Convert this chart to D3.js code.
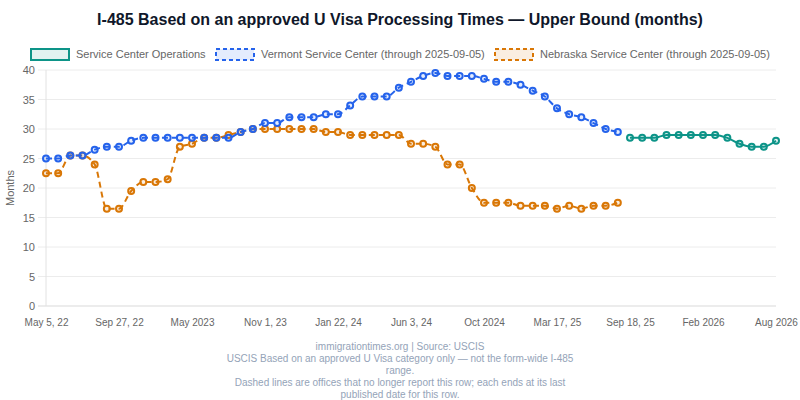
<!DOCTYPE html>
<html>
<head>
<meta charset="utf-8">
<script src="https://cdn.jsdelivr.net/npm/d3@7"></script>
<style>
  body { margin: 0; background: #fff; }
  svg { display: block; font-family: "Liberation Sans", Arial, Helvetica, sans-serif; }
</style>
</head>
<body>
<div id="chart"></div>
<script>
// Tick labels shown on the x axis (one every 6 report dates)
const tickLabels = ['May 5, 22', 'Sep 27, 22', 'May 2023', 'Nov 1, 23', 'Jan 22, 24', 'Jun 3, 24',
    'Oct 2024', 'Mar 17, 25', 'Sep 18, 25', 'Feb 2026', 'Aug 2026'];
const tickEvery = 6;

// Upper bound in months, one value per report date (null = not reported)
const operations = [
    null, null, null, null, null, null, null, null, null, null, null, null,
    null, null, null, null, null, null, null, null, null, null, null, null,
    null, null, null, null, null, null, null, null, null, null, null, null,
    null, null, null, null, null, null, null, null, null, null, null, null,
    28.5, 28.5, 28.5, 29, 29, 29, 29, 29, 28.5, 27.5, 27, 27, 28
];
const vermont = [
    25, 25, 25.5, 25.5, 26.5, 27, 27, 28, 28.5, 28.5, 28.5, 28.5,
    28.5, 28.5, 28.5, 28.5, 29.5, 30, 31, 31, 32, 32, 32, 32.5,
    32.5, 34, 35.5, 35.5, 35.5, 37, 38, 39, 39.5, 39, 39, 39,
    38.5, 38, 38, 37.5, 36.5, 35.5, 33.5, 32.5, 32, 31, 30, 29.5,
    null, null, null, null, null, null, null, null, null, null, null, null, null
];
const nebraska = [
    22.5, 22.5, 25.5, 25.5, 24, 16.5, 16.5, 19.5, 21, 21, 21.5, 27,
    27.5, 28.5, 28.5, 29, 29.5, 30, 30, 30, 30, 30, 30, 29.5,
    29.5, 29, 29, 29, 29, 29, 27.5, 27.5, 27, 24, 24, 20,
    17.5, 17.5, 17.5, 17, 17, 17, 16.5, 17, 16.5, 17, 17, 17.5,
    null, null, null, null, null, null, null, null, null, null, null, null, null
];
const yTicks = [0, 5, 10, 15, 20, 25, 30, 35, 40];

const series = [
    { name: 'Service Center Operations', values: operations, color: '#0d9488', fill: 'rgba(13,148,136,0.12)', dashed: false },
    { name: 'Vermont Service Center (through 2025-09-05)', values: vermont, color: '#2563eb', fill: 'rgba(37,99,235,0.12)', dashed: true },
    { name: 'Nebraska Service Center (through 2025-09-05)', values: nebraska, color: '#d97706', fill: 'rgba(217,119,6,0.12)', dashed: true }
];

const W = 800, H = 400;
const margin = { top: 70, right: 24, bottom: 94, left: 46 };
const width = W - margin.left - margin.right;
const height = H - margin.top - margin.bottom;

const svg = d3.select('#chart')
    .append('svg')
    .attr('width', W)
    .attr('height', H);

// Title
svg.append('text')
    .attr('x', W / 2)
    .attr('y', 25)
    .attr('text-anchor', 'middle')
    .style('font-size', '16px')
    .style('font-weight', 'bold')
    .style('fill', '#0f172a')
    .text('I-485 Based on an approved U Visa Processing Times \u2014 Upper Bound (months)');

// Legend
const legendX = [30, 215, 494];
series.forEach((s, i) => {
    const g = svg.append('g').attr('transform', `translate(${legendX[i]}, 48)`);
    g.append('rect')
        .attr('x', 1).attr('y', 1)
        .attr('width', 38).attr('height', 11)
        .attr('fill', s.fill)
        .attr('stroke', s.color)
        .attr('stroke-width', 2)
        .attr('stroke-dasharray', s.dashed ? '4,3' : null);
    g.append('text')
        .attr('x', 46)
        .attr('y', 10)
        .style('font-size', '11px')
        .style('fill', '#666')
        .text(s.name);
});

const plot = svg.append('g').attr('transform', `translate(${margin.left},${margin.top})`);

const x = d3.scalePoint()
    .domain(d3.range(operations.length))
    .range([0, width]);

const y = d3.scaleLinear()
    .domain([0, 40])
    .range([height, 0]);

// Gridlines
plot.append('g')
    .selectAll('line')
    .data(yTicks)
    .enter()
    .append('line')
    .attr('x1', -8)
    .attr('x2', width)
    .attr('y1', d => y(d))
    .attr('y2', d => y(d))
    .attr('stroke', d => d === 0 ? '#d9d9d9' : '#ececec')
    .attr('stroke-width', 1);

plot.append('line')
    .attr('x1', 0).attr('x2', 0)
    .attr('y1', 0).attr('y2', height)
    .attr('stroke', '#e2e2e2');

// Y axis
const yAxis = d3.axisLeft(y).tickValues(yTicks).tickSize(0).tickPadding(11);
const yg = plot.append('g').call(yAxis);
yg.select('.domain').remove();
yg.selectAll('text').style('font-size', '11px').style('fill', '#666');

svg.append('text')
    .attr('transform', `translate(14, ${margin.top + height / 2}) rotate(-90)`)
    .attr('text-anchor', 'middle')
    .style('font-size', '11px')
    .style('fill', '#666')
    .text('Months');

// X axis
const xAxis = d3.axisBottom(x)
    .tickValues(d3.range(0, operations.length, tickEvery))
    .tickFormat(d => tickLabels[d / tickEvery])
    .tickSize(0)
    .tickPadding(13);
const xg = plot.append('g').attr('transform', `translate(0,${height})`).call(xAxis);
xg.select('.domain').remove();
xg.selectAll('text').style('font-size', '10px').style('fill', '#666');

// Lines and points
const line = d3.line()
    .defined(d => d.value !== null)
    .x(d => x(d.i))
    .y(d => y(d.value))
    .curve(d3.curveMonotoneX);

series.slice().reverse().forEach(s => {
    const pts = s.values.map((v, i) => ({ i: i, value: v }));
    plot.append('path')
        .datum(pts)
        .attr('d', line)
        .attr('fill', 'none')
        .attr('stroke', s.color)
        .attr('stroke-width', 2)
        .attr('stroke-dasharray', s.dashed ? '6,4' : null);

    plot.selectAll(null)
        .data(pts.filter(d => d.value !== null))
        .enter()
        .append('circle')
        .attr('cx', d => x(d.i))
        .attr('cy', d => y(d.value))
        .attr('r', 3)
        .attr('fill', s.fill)
        .attr('stroke', s.color)
        .attr('stroke-width', 2);
});

// Footer notes
const notes = [
    'immigrationtimes.org | Source: USCIS',
    'USCIS Based on an approved U Visa category only \u2014 not the form-wide I-485',
    'range.',
    'Dashed lines are offices that no longer report this row; each ends at its last',
    'published date for this row.'
];
svg.append('g')
    .selectAll('text')
    .data(notes)
    .enter()
    .append('text')
    .attr('x', W / 2)
    .attr('y', (d, i) => 350 + i * 12)
    .attr('text-anchor', 'middle')
    .style('font-size', '10px')
    .style('fill', '#94a3b8')
    .text(d => d);
</script>
</body>
</html>
